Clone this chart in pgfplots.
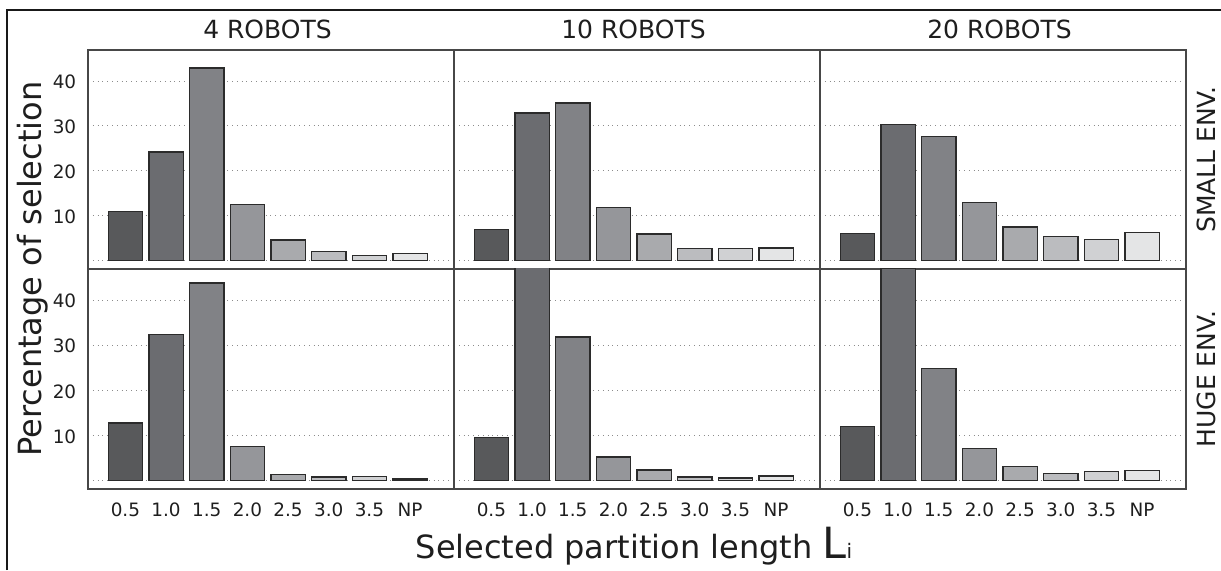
\documentclass[border=0pt]{standalone}
\usepackage{fontspec}
\setmainfont{DejaVu Sans}
\usepackage{pgfplots}
\usepackage{pgfplotstable}
\pgfplotsset{compat=1.18}

% Share (%) of each selected partition length, per team size and environment
% s = small environment, h = huge environment; index 7 = NP
\pgfplotstableread{
x  s4    s10   s20   h4    h10   h20
0  11.0  6.9   6.1   12.8  9.5   12.0
1  24.2  32.9  30.3  32.4  48.7  47.1
2  42.9  35.1  27.7  43.8  31.8  24.9
3  12.5  11.8  12.9  7.6   5.2   7.1
4  4.6   5.9   7.5   1.3   2.4   3.1
5  2.1   2.7   5.4   0.8   0.8   1.6
6  1.2   2.7   4.7   0.9   0.6   2.0
7  1.6   2.8   6.3   0.4   1.0   2.2
}\shares

\definecolor{bar0}{HTML}{58595B}
\definecolor{bar1}{HTML}{6B6C70}
\definecolor{bar2}{HTML}{818286}
\definecolor{bar3}{HTML}{95969A}
\definecolor{bar4}{HTML}{A9AAAD}
\definecolor{bar5}{HTML}{BBBCBF}
\definecolor{bar6}{HTML}{D0D1D3}
\definecolor{bar7}{HTML}{E4E5E6}
\definecolor{edge}{HTML}{2B2B2B}
\definecolor{ink}{HTML}{1E1E1E}

\pgfplotsset{
  panel/.style={
    scale only axis, anchor=south west, width=183pt,
    xmin=-0.92, xmax=8.08, ymin=-1.85, ymax=46.9,
    ybar, bar width=0.845, bar shift=0pt,
    axis line style={draw=black!72, line width=0.6pt},
    ymajorgrids, grid style={dotted, draw=black!45, line width=0.5pt},
    major tick length=0pt,
    xtick={0,...,7}, ytick={0,10,20,30,40},
    xticklabels={}, yticklabels={},
    tick label style={font=\fontsize{9.2}{9.2}\selectfont, text=ink},
    xticklabel style={anchor=base, yshift=-13.5pt},
    yticklabel style={anchor=east, inner sep=0pt, xshift=-5.7pt, yshift=-0.5pt},
  },
  lenlabels/.style={xticklabels={0.5,1.0,1.5,2.0,2.5,3.0,3.5,NP}},
  pctlabels/.style={yticklabels={,10,20,30,40}},
}

% eight bars of one column of the table, each in its own grey
\newcommand{\panelbars}[1]{%
  \pgfplotsinvokeforeach{0,...,7}{%
    \addplot[fill=bar##1, draw=edge, line width=0.7pt]
      table[x=x, y=#1, restrict expr to domain={\coordindex}{##1:##1}] {\shares};
  }%
}

\begin{document}
\begin{tikzpicture}
\useasboundingbox (0pt,0pt) rectangle (610.5pt,285pt);

% top row: small environment
\begin{axis}[panel, pctlabels, at={(44pt,150.5pt)}, height=109.5pt]
\panelbars{s4}
\end{axis}
\begin{axis}[panel, at={(227pt,150.5pt)}, height=109.5pt]
\panelbars{s10}
\end{axis}
\begin{axis}[panel, at={(410pt,150.5pt)}, height=109.5pt]
\panelbars{s20}
\end{axis}

% bottom row: huge environment
\begin{axis}[panel, pctlabels, lenlabels, at={(44pt,40.5pt)}, height=110pt]
\panelbars{h4}
\end{axis}
\begin{axis}[panel, lenlabels, at={(227pt,40.5pt)}, height=110pt]
\panelbars{h10}
\end{axis}
\begin{axis}[panel, lenlabels, at={(410pt,40.5pt)}, height=110pt]
\panelbars{h20}
\end{axis}

% column and row headings
\begin{scope}[every node/.style={text=ink, font=\fontsize{12.5}{12.5}\selectfont}]
\node[anchor=base] at (133.75pt,265.85pt) {4 ROBOTS};
\node[anchor=base] at (316.75pt,265.85pt) {10 ROBOTS};
\node[anchor=base] at (499.75pt,265.85pt) {20 ROBOTS};
\node[rotate=90, anchor=base] at (607.5pt,205.25pt) {SMALL ENV.};
\node[rotate=90, anchor=base] at (607.5pt,95.5pt) {HUGE ENV.};
\end{scope}

% axis titles
\node[rotate=90, anchor=base, text=ink, font=\fontsize{16}{16}\selectfont]
  at (20.85pt,150.5pt) {Percentage of selection};
\node[anchor=base, text=ink, font=\fontsize{16}{16}\selectfont]
  at (317pt,5.85pt) {Selected partition length {\fontsize{21.5}{21.5}\selectfont L}{\fontsize{10}{10}\selectfont i}};

% outer frame
\draw[line width=1pt, black!90, line join=miter] (3.5pt,0pt) -- (3.5pt,280pt) -- (610.5pt,280pt);
\end{tikzpicture}
\end{document}
